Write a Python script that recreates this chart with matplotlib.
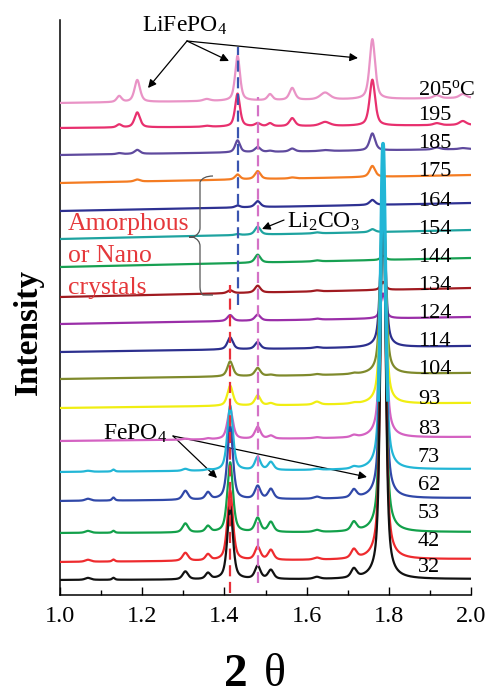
import numpy as np
import matplotlib
matplotlib.use("Agg")
import matplotlib.pyplot as plt
from matplotlib.path import Path
from matplotlib.patches import PathPatch

plt.rcParams['font.family'] = ['Liberation Serif', 'DejaVu Serif']
plt.rcParams['mathtext.fontset'] = 'custom'
plt.rcParams['mathtext.rm'] = 'Liberation Serif'
plt.rcParams['mathtext.it'] = 'Liberation Serif:italic'
plt.rcParams['mathtext.bf'] = 'Liberation Serif:bold'

# ---------------- data ----------------
temps = [32, 42, 53, 62, 73, 83, 93, 104, 114, 124, 134, 144, 154, 164, 175, 185, 195, 205]
colors = ['#111111', '#ee2b2e', '#12a04a', '#3048a8', '#22b6d6', '#d462c2', '#f0ee12',
          '#7f8a2c', '#2c2f8e', '#9a2ea8', '#a01a20', '#17a052', '#1ea3a0', '#2e3192',
          '#f47c22', '#5f4a9e', '#e8306e', '#e993c6']
# baseline offsets (left end, right end)
base_left = [15, 33, 62, 94, 123, 154, 187, 216, 243, 271, 298, 328, 356, 384, 412, 440, 467, 492]
base_right = [16, 36, 63, 97, 126, 158, 192, 222, 249, 278, 307, 337, 365, 392, 420, 446, 470, 497]

# FePO4 reflections
fe_pos = [1.068, 1.13, 1.305, 1.36, 1.414, 1.513, 1.625, 1.715, 1.786]
fe_wid = [0.008, 0.004, 0.008, 0.007, 0.008, 0.008, 0.009, 0.008, 0.007]
fe_h = [
    [2, 2, 8, 6, 73, 9, 2, 9, 420],
    [2, 2, 8, 6, 70, 10, 2, 9, 400],
    [2, 2, 9, 6, 70, 10, 2, 9, 370],
    [2, 3, 9, 7, 73, 10, 2, 8, 340],
    [1, 2, 2, 1, 65, 8, 1, 2, 326],
    [0, 0, 1, 1, 30, 3, 1, 2, 270],
    [0, 0, 0, 0, 20, 2, 3, 1, 230],
    [0, 0, 0, 0, 15, 1, 1, 1, 200],
    [0, 0, 0, 0, 12, 0, 1, 0, 150],
    [0, 0, 0, 0, 6, 0, 1, 0, 25],
    [0, 0, 0, 0, 3, 0, 1, 0, 8],
    [0, 0, 0, 0, 0, 0, 1, 0, 4],
    [0, 0, 0, 0, 0, 0, 1, 0, 0],
    [0, 0, 0, 0, 0, 0, 0, 0, 0],
    [0, 0, 0, 0, 0, 0, 0, 0, 0],
    [0, 0, 0, 0, 0, 0, 0, 0, 0],
    [0, 0, 0, 0, 0, 0, 0, 0, 0],
    [0, 0, 0, 0, 0, 0, 0, 0, 0],
]
# Li2CO3 reflection
li_pos = 1.481
li_wid = 0.008
li_h = [13, 13, 14, 13, 13, 12, 10, 8, 7, 6, 7, 8, 8, 6, 8, 5, 3, 0]
# LiFePO4 reflections
lfp_pos = [1.144, 1.188, 1.357, 1.432, 1.511, 1.565, 1.645, 1.76, 1.917, 1.98]
lfp_wid = [0.007, 0.008, 0.01, 0.007, 0.007, 0.008, 0.014, 0.008, 0.01, 0.01]
lfp_h = [[0] * 10] * 12 + [
    [0, 0, 0, 1, 0, 0, 0, 3, 0, 0],
    [0, 0, 0, 2, 0, 0, 0, 5, 0, 0],
    [0, 2, 0, 5, 0, 1, 0, 11, 0, 0],
    [1, 4, 0, 12, 1, 3, 1, 17, 2, 1],
    [3, 15, 1, 33, 3, 8, 4, 46, 2, 4],
    [6, 22, 2, 45, 6, 12, 7, 60, 3, 4],
]
temp_labels = [str(t) for t in temps[:-1]] + ['205$^\\mathregular{o}$C']
x_ticks = [1.0, 1.2, 1.4, 1.6, 1.8, 2.0]

# ---------------- layout ----------------
W, H = 490, 695
fig = plt.figure(figsize=(W / 100, H / 100), dpi=100)
ax = fig.add_axes([60 / W, 1 - 595 / H, (471 - 60) / W, (595 - 20) / H])
ax.set_xlim(1.0, 2.0)
ax.set_ylim(0, 575)

ETA = 0.6
def pv(x, p, h, g):
    lo = g * g / ((x - p) ** 2 + g * g)
    ga = np.exp(-np.log(2) * ((x - p) / g) ** 2)
    return h * (ETA * lo + (1 - ETA) * ga)

x = np.linspace(1.0, 2.0, 4001)
curves = []
for i in range(len(temps)):
    y = base_left[i] + (base_right[i] - base_left[i]) * (x - 1.0)
    for p, g, h in zip(fe_pos, fe_wid, fe_h[i]):
        y = y + pv(x, p, h, g)
    for p, g, h in zip(lfp_pos, lfp_wid, lfp_h[i]):
        y = y + pv(x, p, h, g)
    y = y + pv(x, li_pos, li_h[i], li_wid)
    curves.append(y)

# draw from top (high T) to bottom so lower curves lie on top
for i in reversed(range(len(temps))):
    ax.plot(x, curves[i], color=colors[i], lw=1.6, zorder=3 + (len(temps) - i) * 0.01,
            solid_joinstyle='round')
# 73 C curve's strong peak on top of everything
i73 = temps.index(73)
m = (x > fe_pos[-1] - 0.012) & (x < fe_pos[-1] + 0.012)
ax.plot(x[m], curves[i73][m], color=colors[i73], lw=2.6, zorder=6)

# dashed reference lines
ax.plot([fe_pos[4]] * 2, [2, 310], color='#e8303a', lw=1.6, dashes=(5, 2.5), zorder=7)
ax.plot([lfp_pos[3]] * 2, [290, 548], color='#3a55b0', lw=1.6, dashes=(5, 2.5), zorder=7)
ax.plot([li_pos] * 2, [12, 498], color='#d472c6', lw=1.6, dashes=(5, 2.5), zorder=7)

# axes styling
for s in ['top', 'right']:
    ax.spines[s].set_visible(False)
for s in ['left', 'bottom']:
    ax.spines[s].set_linewidth(1.1)
ax.set_yticks([])
ax.set_xticks(x_ticks)
ax.set_xticklabels([f'{v:.1f}' for v in x_ticks])
ax.set_xticks(np.arange(1.1, 2.0, 0.2), minor=True)
ax.tick_params(axis='x', which='major', direction='in', length=6, width=1.0,
               labelsize=17.5, pad=8)
ax.tick_params(axis='x', which='minor', direction='in', length=3.5, width=1.0)

# temperature labels
label_y = [27, 54, 82, 110, 138, 166, 196, 225, 253, 282, 310, 338, 365, 393, 423, 452, 479, 505]
for lab, ly in zip(temp_labels, label_y):
    ax.text(1.871, ly, lab, fontsize=16, ha='left', va='center', zorder=8)

# axis titles
def fp(px, py):
    return (px / W, 1 - py / H)

fig.text(*fp(28, 332), 'Intensity', rotation=90, fontsize=24, fontweight='bold',
         ha='center', va='center')
fig.text(*fp(236, 686), '2', fontsize=34, fontweight='bold', ha='center', va='baseline')
fig.text(*fp(275, 686), 'θ', fontsize=33, ha='center', va='baseline')

# annotations
aprops = dict(arrowstyle='-|>', color='black', lw=0.9, mutation_scale=12,
              shrinkA=0, shrinkB=0)
fig.text(*fp(142, 32), 'LiFePO$_\\mathregular{4}$', fontsize=17, ha='left', va='baseline')
for tx, ty in [(148, 88), (229, 61), (358, 58)]:
    ax.annotate('', xy=fp(tx, ty), xycoords='figure fraction',
                xytext=fp(187, 41), textcoords='figure fraction', arrowprops=aprops)

fig.text(*fp(103, 440), 'FePO$_\\mathregular{4}$', fontsize=17, ha='left', va='baseline')
for tx, ty in [(217, 478), (367, 477)]:
    ax.annotate('', xy=fp(tx, ty), xycoords='figure fraction',
                xytext=fp(173, 436), textcoords='figure fraction', arrowprops=aprops)

fig.text(*fp(287, 228), 'Li$_\\mathregular{2}$CO$_\\mathregular{3}$', fontsize=17,
         ha='left', va='baseline', zorder=9)
ax.annotate('', xy=fp(262, 229), xycoords='figure fraction',
            xytext=fp(284, 220), textcoords='figure fraction', arrowprops=aprops)

fig.text(*fp(68, 230), 'Amorphous', fontsize=18.5, color='#e5383b', ha='left', va='baseline')
fig.text(*fp(68, 262), 'or Nano', fontsize=18.5, color='#e5383b', ha='left', va='baseline')
fig.text(*fp(68, 294), 'crystals', fontsize=18.5, color='#e5383b', ha='left', va='baseline')

# curly brace
pts = [(213, 176), (203, 176), (200, 182), (200, 190),
       (200, 228), (200, 234), (193, 237), (185, 237),
       (193, 237), (200, 240), (200, 246),
       (200, 287), (200, 293), (203, 295), (213, 295)]
verts = [fp(*p) for p in pts]
codes = [Path.MOVETO, Path.CURVE3, Path.CURVE3, Path.LINETO,
         Path.LINETO, Path.CURVE3, Path.CURVE3, Path.CURVE3,
         Path.CURVE3, Path.CURVE3, Path.LINETO,
         Path.LINETO, Path.CURVE3, Path.CURVE3, Path.LINETO]
brace = PathPatch(Path(verts, codes), transform=fig.transFigure, fill=False,
                  edgecolor='#555555', lw=0.9)
fig.patches.append(brace)

fig.savefig('out.png', dpi=100)
